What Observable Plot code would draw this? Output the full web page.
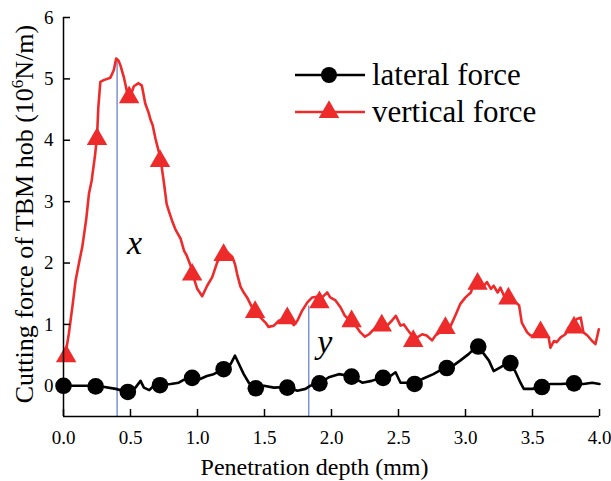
<!DOCTYPE html>
<html>
<head>
<meta charset="utf-8">
<script src="https://cdn.jsdelivr.net/npm/d3@7"></script>
<script src="https://cdn.jsdelivr.net/npm/@observablehq/plot@0.6"></script>
<style>
  body { margin: 0; background: #fff; }
</style>
</head>
<body>
<div id="chart"></div>
<script>
// Vertical cutting force along penetration depth (10^6 N/m)
const depthVertical = [0.01, 0.04, 0.07, 0.09, 0.12, 0.14, 0.17, 0.19, 0.21, 0.235, 0.25, 0.26, 0.275, 0.30, 0.35, 0.375, 0.393, 0.41, 0.425, 0.45, 0.475, 0.50, 0.525, 0.56, 0.585, 0.61, 0.635, 0.65, 0.665, 0.687, 0.724, 0.75, 0.77, 0.79, 0.81, 0.835, 0.86, 0.873, 0.90, 0.92, 0.948, 0.97, 0.998, 1.035, 1.072, 1.11, 1.147, 1.18, 1.22, 1.26, 1.28, 1.296, 1.32, 1.345, 1.37, 1.395, 1.42, 1.47, 1.507, 1.53, 1.57, 1.607, 1.645, 1.68, 1.72, 1.745, 1.78, 1.82, 1.856, 1.89, 1.93, 1.968, 1.99, 2.03, 2.067, 2.10, 2.14, 2.18, 2.216, 2.25, 2.28, 2.315, 2.35, 2.39, 2.415, 2.45, 2.48, 2.515, 2.54, 2.565, 2.60, 2.64, 2.677, 2.71, 2.75, 2.776, 2.81, 2.85, 2.89, 2.925, 2.96, 3.0, 3.04, 3.06, 3.10, 3.137, 3.16, 3.19, 3.21, 3.24, 3.26, 3.286, 3.32, 3.36, 3.40, 3.42, 3.46, 3.485, 3.52, 3.56, 3.597, 3.62, 3.634, 3.66, 3.68, 3.71, 3.746, 3.77, 3.80, 3.83, 3.86, 3.88, 3.91, 3.945, 3.97, 3.995];
const forceVertical = [0.45, 0.85, 1.35, 1.71, 2.05, 2.26, 2.72, 3.13, 3.34, 3.75, 4.05, 4.54, 4.95, 4.98, 5.02, 5.14, 5.33, 5.30, 5.22, 5.03, 4.78, 4.72, 4.88, 4.93, 4.89, 4.60, 4.45, 4.33, 4.25, 4.02, 3.70, 3.30, 2.96, 2.82, 2.69, 2.55, 2.45, 2.40, 2.20, 2.12, 1.96, 1.77, 1.58, 1.46, 1.63, 1.77, 2.01, 2.15, 2.18, 2.10, 1.98, 1.82, 1.62, 1.52, 1.44, 1.33, 1.22, 1.11, 1.03, 0.96, 0.98, 1.06, 1.09, 1.09, 0.99, 1.06, 1.22, 1.36, 1.44, 1.45, 1.44, 1.52, 1.44, 1.39, 1.28, 1.14, 1.06, 0.98, 0.87, 0.80, 0.84, 0.92, 1.00, 1.06, 0.98, 1.06, 1.14, 0.98, 1.00, 0.92, 0.82, 0.79, 0.84, 0.82, 0.74, 0.82, 0.87, 0.95, 0.98, 1.15, 1.33, 1.44, 1.52, 1.66, 1.71, 1.63, 1.69, 1.58, 1.63, 1.52, 1.60, 1.47, 1.41, 1.39, 1.31, 1.03, 0.87, 0.82, 0.82, 0.87, 0.84, 0.79, 0.62, 0.73, 0.71, 0.79, 0.84, 0.95, 1.00, 1.09, 1.11, 0.87, 0.82, 0.73, 0.68, 0.92];

// Lateral cutting force along penetration depth (10^6 N/m)
const depthLateral = [0.0, 0.25, 0.39, 0.475, 0.537, 0.575, 0.60, 0.64, 0.674, 0.724, 0.80, 0.86, 0.90, 0.96, 1.02, 1.07, 1.12, 1.196, 1.246, 1.28, 1.31, 1.345, 1.383, 1.43, 1.495, 1.57, 1.67, 1.745, 1.806, 1.84, 1.905, 1.98, 2.055, 2.14, 2.23, 2.30, 2.378, 2.44, 2.478, 2.515, 2.565, 2.60, 2.677, 2.76, 2.84, 2.89, 2.96, 3.025, 3.087, 3.137, 3.175, 3.21, 3.26, 3.32, 3.37, 3.41, 3.435, 3.50, 3.56, 3.634, 3.71, 3.80, 3.88, 3.945, 4.0];
const forceLateral = [0.0, 0.0, -0.05, -0.10, -0.03, 0.08, -0.03, -0.07, 0.0, 0.02, 0.03, 0.05, 0.10, 0.13, 0.11, 0.16, 0.19, 0.27, 0.35, 0.49, 0.35, 0.19, 0.05, -0.03, 0.0, -0.03, -0.02, -0.08, -0.05, 0.0, 0.03, 0.14, 0.19, 0.16, 0.05, 0.08, 0.14, 0.16, 0.22, 0.05, 0.05, 0.03, 0.11, 0.19, 0.29, 0.30, 0.41, 0.52, 0.65, 0.52, 0.41, 0.24, 0.30, 0.38, 0.24, 0.05, -0.05, -0.05, -0.02, 0.03, 0.03, 0.04, 0.03, 0.05, 0.03];

// Sample points marked with symbols on each curve
const markDepthLateral  = [0.0, 0.24, 0.48, 0.72, 0.96, 1.195, 1.435, 1.67, 1.91, 2.15, 2.385, 2.62, 2.86, 3.095, 3.335, 3.57, 3.81];
const markLateral       = [0.0, -0.01, -0.10, 0.01, 0.13, 0.27, -0.04, -0.03, 0.04, 0.15, 0.13, 0.03, 0.29, 0.64, 0.37, -0.02, 0.04];
const markDepthVertical = [0.02, 0.25, 0.49, 0.72, 0.96, 1.195, 1.43, 1.67, 1.91, 2.15, 2.375, 2.61, 2.85, 3.09, 3.32, 3.56, 3.81];
const markVertical      = [0.48, 4.02, 4.70, 3.66, 1.81, 2.13, 1.20, 1.10, 1.36, 1.05, 0.98, 0.73, 0.94, 1.66, 1.42, 0.87, 0.95];

// Reference depths x and y with the vertical force reached there
const refDepth = [0.40, 1.83];
const refForce = [5.33, 1.30];
const refName  = ["x", "y"];
const refLabelDepth = [0.53, 1.95];
const refLabelForce = [2.33, 0.72];

const xTicks = [0.0, 0.5, 1.0, 1.5, 2.0, 2.5, 3.0, 3.5, 4.0];
const yTicks = [0, 1, 2, 3, 4, 5, 6];
const seriesNames = ["lateral force", "vertical force"];

const RED = "#ee2b2b";
const BLUE = "#7d93d3";
const FONT = "Liberation Serif";

const vertical = depthVertical.map((d, i) => ({depth: d, force: forceVertical[i]}));
const lateral = depthLateral.map((d, i) => ({depth: d, force: forceLateral[i]}));
const lateralMarks = markDepthLateral.map((d, i) => ({depth: d, force: markLateral[i]}));
const verticalMarks = markDepthVertical.map((d, i) => ({depth: d, force: markVertical[i]}));
const refs = refDepth.map((d, i) => ({depth: d, force: refForce[i]}));
const refLabels = refName.map((n, i) => ({name: n, depth: refLabelDepth[i], force: refLabelForce[i]}));

const plot = Plot.plot({
  width: 611,
  height: 481,
  marginLeft: 63,
  marginRight: 12,
  marginTop: 17,
  marginBottom: 65,
  x: {domain: [0, 4]},
  y: {domain: [-0.5, 6]},
  marks: [
    Plot.ruleX(refs, {x: "depth", y1: -0.5, y2: "force", stroke: BLUE, strokeWidth: 1.5}),
    Plot.line(vertical, {x: "depth", y: "force", stroke: RED, strokeWidth: 2.6}),
    Plot.line(lateral, {x: "depth", y: "force", stroke: "#000", strokeWidth: 2.6}),
    Plot.dot(lateralMarks, {x: "depth", y: "force", r: 8.3, fill: "#000", symbol: "circle"}),
    Plot.dot(verticalMarks, {x: "depth", y: "force", r: 7.6, fill: RED, symbol: "triangle"}),
    Plot.text(refLabels, {x: "depth", y: "force", text: "name", fontFamily: FONT, fontSize: 34, fontStyle: "italic", fill: "#000"}),
    Plot.ruleY([-0.5], {stroke: "#000", strokeWidth: 1.5}),
    Plot.ruleX([0], {stroke: "#000", strokeWidth: 1.5}),
    Plot.axisX({ticks: xTicks, tickFormat: d3.format(".1f"), tickSize: -7, tickPadding: 21, strokeWidth: 1.5, fontFamily: FONT, fontSize: 19, label: null}),
    Plot.axisY({ticks: yTicks, tickFormat: d3.format("d"), tickSize: -7, tickPadding: 17, strokeWidth: 1.5, fontFamily: FONT, fontSize: 19, label: null}),
    Plot.text(["Penetration depth (mm)"], {text: d => d, frameAnchor: "bottom", dx: -17, dy: 51, fontFamily: FONT, fontSize: 24, lineAnchor: "middle"})
  ]
});

document.getElementById("chart").appendChild(plot);

const svg = d3.select(plot);

// Y axis title with a raised exponent
const yTitle = svg.append("text")
  .attr("transform", "translate(24,214) rotate(-90)")
  .attr("text-anchor", "middle")
  .attr("dy", "0.35em")
  .attr("font-family", FONT)
  .attr("font-size", 26)
  .attr("fill", "#000");
yTitle.append("tspan").text("Cutting force of TBM hob (10");
yTitle.append("tspan").attr("font-size", 17).attr("dy", -10).text("6");
yTitle.append("tspan").attr("dy", 10).text("N/m)");

// Legend in the upper right of the plotting area
const legend = svg.append("g")
  .attr("font-family", FONT)
  .attr("font-size", 31)
  .attr("text-anchor", "start");
const legendRows = [
  {name: seriesNames[0], color: "#000", symbol: d3.symbolCircle, r: 8, y: 75},
  {name: seriesNames[1], color: RED, symbol: d3.symbolTriangle, r: 7.6, y: 112}
];
for (const row of legendRows) {
  legend.append("line")
    .attr("x1", 295).attr("x2", 365).attr("y1", row.y).attr("y2", row.y)
    .attr("stroke", row.color).attr("stroke-width", 2.6);
  legend.append("path")
    .attr("d", d3.symbol(row.symbol, Math.PI * row.r * row.r)())
    .attr("transform", `translate(329,${row.y})`)
    .attr("fill", row.color);
  legend.append("text")
    .attr("x", 372).attr("y", row.y).attr("dy", "0.32em")
    .attr("fill", "#000")
    .text(row.name);
}
</script>
</body>
</html>
